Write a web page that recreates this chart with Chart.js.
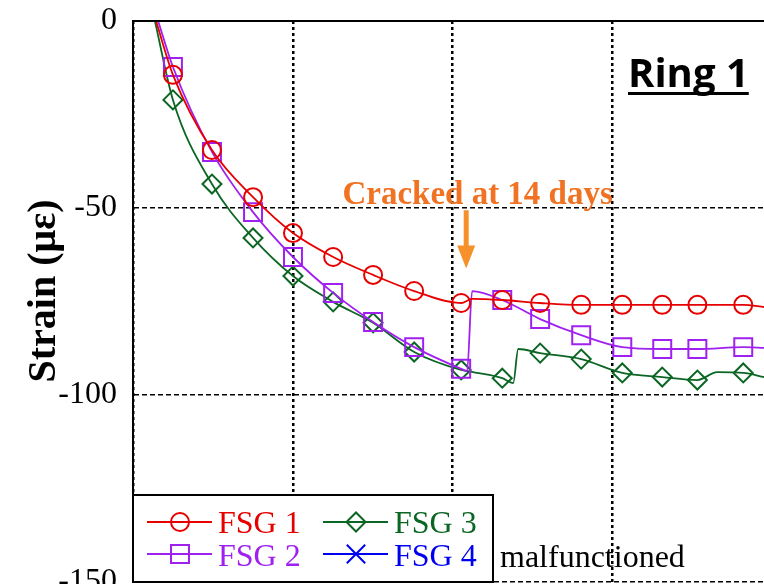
<!DOCTYPE html>
<html><head><meta charset="utf-8">
<script src="https://cdn.jsdelivr.net/npm/chart.js@4.4.1/dist/chart.umd.min.js"></script>
<style>
html,body{margin:0;padding:0;overflow:hidden;background:#fff;width:764px;height:584px}
#wrap{position:absolute;left:0;top:0;width:776px;height:622px}
</style>
</head><body>
<div id="wrap"><canvas id="c" width="776" height="622"></canvas></div>
<script>
// ---- data (x in days, y in microstrain) ----
const xTickValues = [0, 7, 14, 21, 28];
const yTickValues = [0, -50, -100, -150];
const markerDays = [1.75, 3.46, 5.26, 7.01, 8.77, 10.52, 12.32, 14.38, 16.18, 17.84, 19.64, 21.44, 23.19, 24.73, 26.74];

const fsg1Days   = [1.01, 1.75, 3.46, 5.26, 7.01, 8.77, 10.52, 12.32, 14.38, 14.86, 16.18, 17.84, 19.64, 21.44, 23.19, 24.73, 26.74, 27.66];
const fsg1Strain = [0, -14.4, -34.5, -47.1, -56.7, -63.1, -67.9, -72.2, -75.4, -74.3, -74.6, -75.4, -75.9, -75.9, -75.9, -75.9, -75.9, -76.5];

const fsg2Days   = [1.10, 1.75, 3.46, 5.26, 7.01, 8.77, 10.52, 12.32, 14.38, 14.64, 14.86, 16.18, 17.84, 19.64, 21.44, 23.19, 24.73, 26.74, 27.66];
const fsg2Strain = [0, -12.3, -35.0, -51.1, -63.1, -72.7, -80.5, -87.2, -93.0, -93.6, -72.2, -74.6, -79.7, -84.0, -87.2, -87.7, -87.7, -87.2, -87.4];

const fsg3Days   = [0.96, 1.75, 3.46, 5.26, 7.01, 8.77, 10.52, 12.32, 14.38, 15.0, 16.18, 16.66, 16.88, 17.84, 19.64, 21.44, 23.19, 24.73, 25.60, 26.74, 27.66];
const fsg3Strain = [0, -21.1, -43.6, -58.0, -68.2, -75.1, -80.7, -88.5, -93.3, -94.0, -95.5, -96.8, -87.7, -88.8, -90.4, -94.1, -95.2, -96.0, -93.9, -94.1, -95.2];

const fsg4Days = [];
const fsg4Strain = [];

const seriesNames = ['FSG 1', 'FSG 2', 'FSG 3', 'FSG 4'];
const crackDay = 14.6;
const crackLabel = 'Cracked at 14 days';
const ringLabel = 'Ring 1';
const noteLabel = 'malfunctioned';
const yTitle = 'Strain (\u03bc\u03b5)';

// ---- styles ----
const COLORS = ['#E60000', '#A020F0', '#0B6623', '#0000F0'];
const STYLES = ['circle', 'rect', 'rectRot', 'crossRot'];
const RADII = [9, 12.7, 9.5, 13];
const ORANGE_TXT = '#F07222';
const ORANGE_ARR = '#F5902A';
const SERIF = '"Liberation Serif","Times New Roman",serif';

function pts(d, s){ return d.map((x,i)=>({x:x, y:s[i]})); }
function mkDataset(i, d, s){
  return {
    label: seriesNames[i],
    data: pts(d, s),
    borderColor: COLORS[i],
    borderWidth: 1.8,
    pointStyle: STYLES[i],
    pointBorderColor: COLORS[i],
    pointBackgroundColor: 'rgba(0,0,0,0)',
    pointBorderWidth: 2,
    pointRadius: ctx => (ctx.raw && markerDays.includes(ctx.raw.x)) ? RADII[i] : 0,
    pointHoverRadius: 0,
    cubicInterpolationMode: 'monotone',
    fill: false
  };
}

const overlay = {
  id: 'overlay',
  afterDraw(chart){
    const ctx = chart.ctx, ca = chart.chartArea;
    const xs = chart.scales.x, ys = chart.scales.y;
    ctx.save();
    // solid top frame
    ctx.strokeStyle = '#000'; ctx.lineWidth = 2; ctx.setLineDash([]);
    ctx.beginPath(); ctx.moveTo(ca.left, ca.top); ctx.lineTo(ca.right, ca.top); ctx.stroke();

    // y-axis title
    ctx.save();
    ctx.translate(55, 291);
    ctx.rotate(-Math.PI / 2);
    ctx.fillStyle = '#000';
    ctx.font = 'bold 40px ' + SERIF;
    ctx.textAlign = 'center'; ctx.textBaseline = 'alphabetic';
    ctx.fillText(yTitle, 0, 0);
    ctx.restore();

    // Ring 1
    ctx.fillStyle = '#000';
    ctx.font = 'bold 40px "Open Sans", sans-serif';
    ctx.textAlign = 'left'; ctx.textBaseline = 'alphabetic';
    const rx = 628, rb = 87;
    ctx.fillText(ringLabel, rx, rb);
    const rw = ctx.measureText(ringLabel).width;
    ctx.fillRect(rx, 92, rw, 3);

    // cracked annotation
    const ax = xs.getPixelForValue(crackDay);
    ctx.fillStyle = ORANGE_TXT;
    ctx.font = 'bold 33px ' + SERIF;
    ctx.textAlign = 'center';
    ctx.fillText(crackLabel, xs.getPixelForValue(15.1), ys.getPixelForValue(-48.9));
    const yTop = ys.getPixelForValue(-50.6), yHead = ys.getPixelForValue(-60), yTip = ys.getPixelForValue(-66.2);
    ctx.fillStyle = ORANGE_ARR;
    ctx.fillRect(ax - 2.5, yTop, 5, yHead - yTop + 2);
    ctx.beginPath(); ctx.moveTo(ax - 9, yHead); ctx.lineTo(ax + 9, yHead); ctx.lineTo(ax, yTip); ctx.closePath(); ctx.fill();

    // legend box
    const lx = ca.left, ly = 495, lw = 360, lh = ca.bottom - 495;
    ctx.fillStyle = '#fff'; ctx.fillRect(lx, ly, lw, lh);
    ctx.strokeStyle = '#000'; ctx.lineWidth = 2; ctx.strokeRect(lx, ly, lw, lh);
    const entries = [
      {i:0, x0:lx+14, row:0}, {i:2, x0:lx+190, row:0},
      {i:1, x0:lx+14, row:1}, {i:3, x0:lx+190, row:1}
    ];
    entries.forEach(e => {
      const cy = e.row === 0 ? 522 : 554;
      const base = e.row === 0 ? 533 : 566;
      const c = COLORS[e.i];
      ctx.strokeStyle = c; ctx.lineWidth = 1.8;
      ctx.beginPath(); ctx.moveTo(e.x0, cy); ctx.lineTo(e.x0 + 65, cy); ctx.stroke();
      ctx.lineWidth = 2;
      ctx.fillStyle = 'rgba(0,0,0,0)';
      Chart.helpers.drawPoint(ctx, {pointStyle: STYLES[e.i], radius: RADII[e.i], borderWidth: 2, rotation: 0}, e.x0 + 33, cy);
      ctx.fillStyle = c; ctx.font = '32px ' + SERIF; ctx.textAlign = 'left';
      ctx.fillText(seriesNames[e.i], e.x0 + 71, base);
    });
    ctx.fillStyle = '#000'; ctx.font = '32px ' + SERIF; ctx.textAlign = 'left';
    ctx.fillText(noteLabel, 500, 567);
    ctx.restore();
  }
};

new Chart(document.getElementById('c'), {
  type: 'line',
  data: {
    datasets: [
      mkDataset(0, fsg1Days, fsg1Strain),
      mkDataset(1, fsg2Days, fsg2Strain),
      mkDataset(2, fsg3Days, fsg3Strain),
      mkDataset(3, fsg4Days, fsg4Strain)
    ]
  },
  options: {
    responsive: false,
    animation: false,
    devicePixelRatio: 1,
    layout: { autoPadding: false, padding: { top: 21, right: 4, bottom: 0, left: 0 } },
    plugins: { legend: { display: false }, tooltip: { enabled: false } },
    scales: {
      x: {
        type: 'linear', min: 0, max: 28,
        afterBuildTicks: s => { s.ticks = xTickValues.map(v => ({value: v})); },
        afterFit: s => { s.height = 40; s.paddingLeft = 0; s.paddingRight = 0; },
        ticks: { display: false },
        grid: { color: '#000', lineWidth: 2.5, drawTicks: false },
        border: { display: false, dash: [3, 3] }
      },
      y: {
        type: 'linear', min: -150, max: 0,
        afterBuildTicks: s => { s.ticks = yTickValues.map(v => ({value: v})); },
        afterFit: s => { s.width = 133; s.paddingTop = 0; s.paddingBottom = 0; },
        ticks: { color: '#000', padding: 16, font: { family: SERIF, size: 32 } },
        grid: { color: '#000', lineWidth: 1.5, drawTicks: false },
        border: { display: true, color: '#000', width: 2, dash: [5, 3] },
        title: { display: false }
      }
    }
  },
  plugins: [overlay]
});
</script>
</body></html>
